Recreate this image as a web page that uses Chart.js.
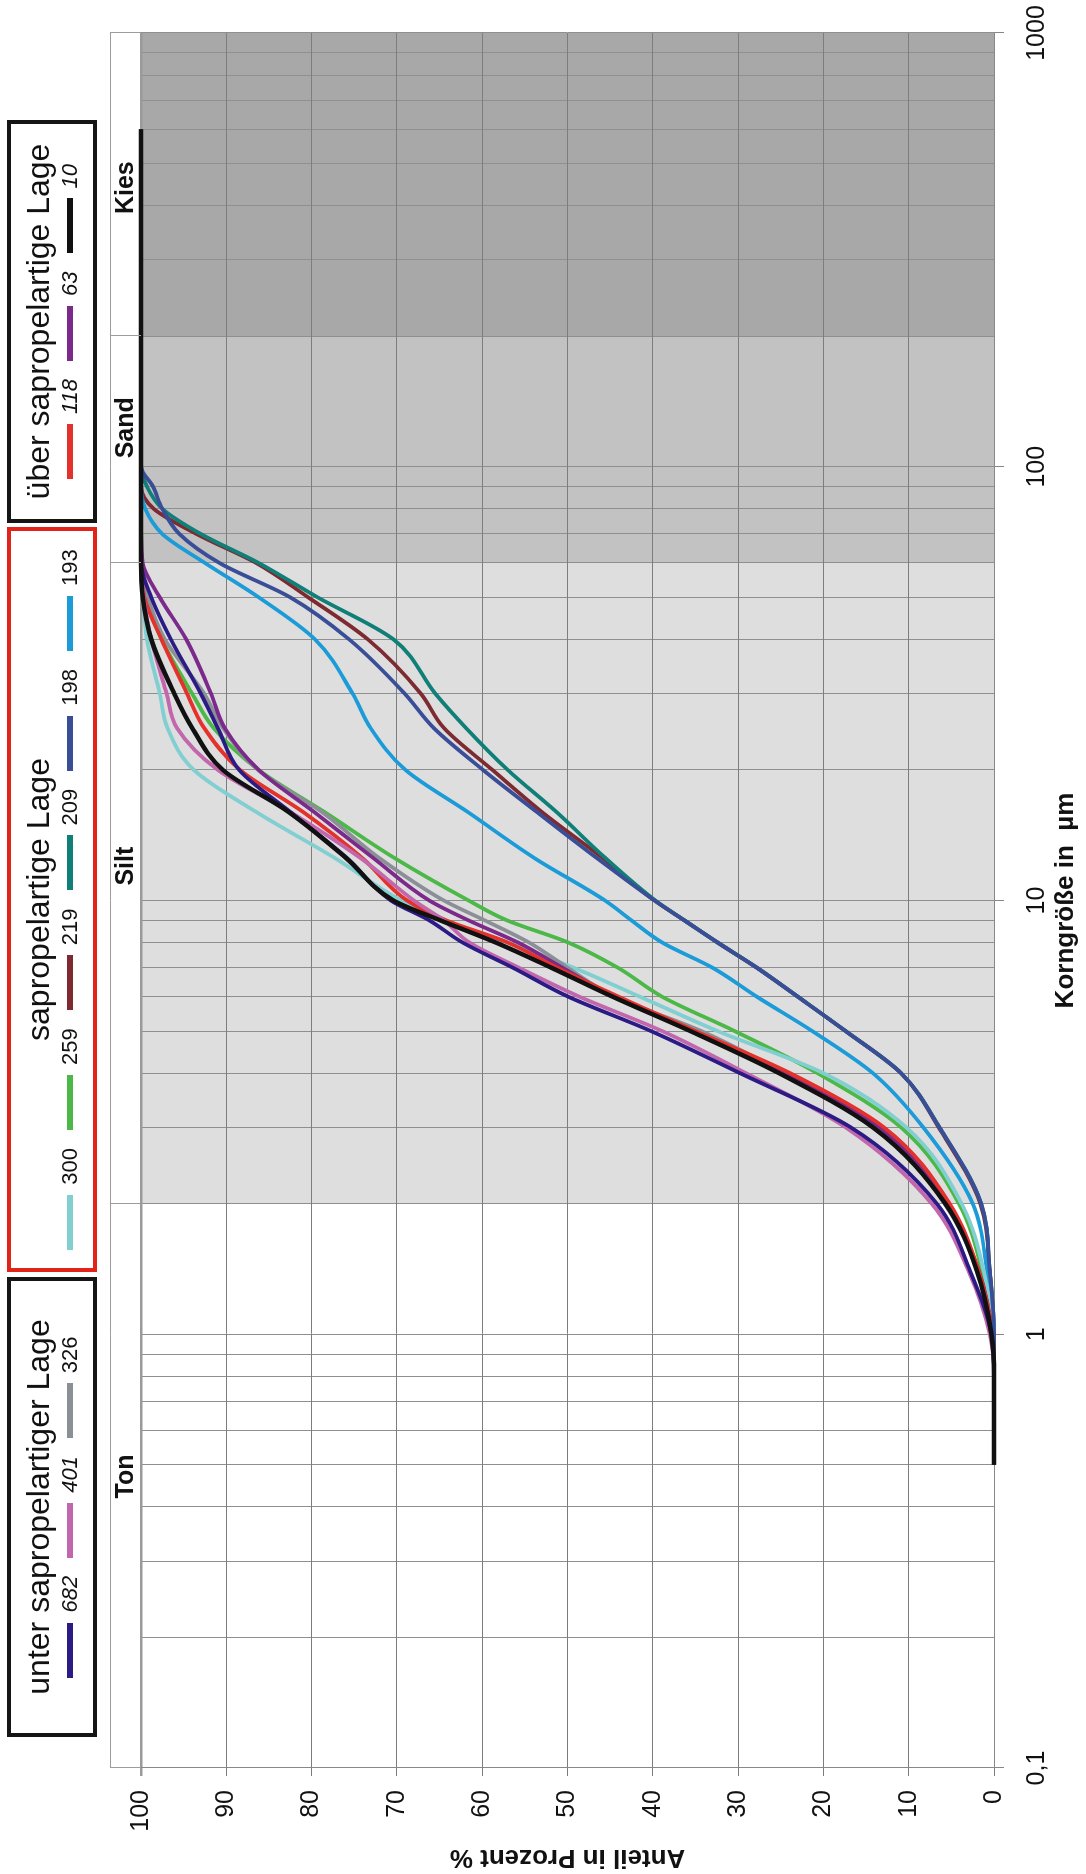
<!DOCTYPE html>
<html>
<head>
<meta charset="utf-8">
<script src="https://cdn.jsdelivr.net/npm/chart.js@4.4.1/dist/chart.umd.min.js"></script>
<style>
  html, body { margin: 0; padding: 0; background: #fff; overflow: hidden; }
  body { width: 1086px; height: 1874px; position: relative; }
  /* the chart is drawn lying down and turned a quarter to the left */
  #page { position: absolute; left: 0; top: 0; width: 1874px; height: 1086px;
          transform-origin: 0 0; transform: translate(0, 1874px) rotate(-90deg);
          font-family: "Liberation Sans", Arial, sans-serif; color: #111; }
  #chart { position: absolute; left: 0; top: 0; }
  .box { position: absolute; top: 7px; height: 90px; box-sizing: border-box;
         border: 4px solid #151515; background: #fff; }
  .box .ttl { position: absolute; left: 0; right: 0; top: 9px; text-align: center;
              font-size: 32px; line-height: 36px; white-space: nowrap; }
  .box .items { position: absolute; left: 0; right: 0; top: 47px; height: 24px;
                display: flex; justify-content: center; align-items: center; }
  .item { display: flex; align-items: center; margin: 0 9px; }
  .item .ln { width: 55px; height: 6px; margin-right: 10px; }
  .item .num { font-size: 22px; line-height: 24px; }
</style>
</head>
<body>
<div id="page">
  <canvas id="chart" width="1874" height="1086"></canvas>
</div>
<script>
// grain size in µm, shared by all samples
const sizes = [0.5, 0.8, 1, 1.4, 2, 3, 4, 5, 6, 7, 8, 9, 10, 12.5, 16, 20, 25, 30, 40, 50, 60, 70, 80, 90, 100, 600];

// cumulative share in % for each sample
const s682 = [0, 0, 0.3, 2.8, 6.7, 16.8, 29.8, 40.2, 49.9, 56.4, 62.3, 66.2, 70.7, 75.8, 82.5, 88.5, 91.0, 93.0, 96.5, 98.8, 100, 100, 100, 100, 100, 100];
const s401 = [0, 0, 0.5, 3.0, 7.3, 17.4, 29.1, 38.9, 48.6, 55.7, 61.5, 64.5, 68.0, 74.2, 82.5, 91.0, 95.8, 97.0, 98.8, 99.7, 100, 100, 100, 100, 100, 100];
const s326 = [0, 0, 0.2, 1.9, 5.8, 13.5, 24.6, 34.3, 44.5, 50.0, 54.5, 59.7, 64.5, 72.0, 78.8, 86.3, 90.4, 92.6, 97.2, 99.2, 99.9, 100, 100, 100, 100, 100];
const s300 = [0, 0, 0.1, 1.2, 3.8, 10.3, 20.0, 32.4, 41.5, 49.3, 57.0, 64.5, 69.5, 77.2, 86.5, 93.8, 96.9, 97.8, 99.3, 99.8, 100, 100, 100, 100, 100, 100];
const s259 = [0, 0, 0.1, 1.4, 4.1, 10.9, 20.7, 30.4, 38.9, 44.1, 49.9, 57.1, 61.6, 70.2, 78.5, 86.2, 91.5, 94.0, 97.6, 99.5, 100, 100, 100, 100, 100, 100];
const s219 = [0, 0, 0, 0.5, 1.6, 6.5, 10.9, 17.4, 23.0, 27.8, 32.4, 36.3, 39.8, 45.8, 53.0, 58.8, 64.5, 67.2, 73.4, 80.4, 86.5, 93.5, 98.5, 100, 100, 100];
const s209 = [0, 0, 0, 0.5, 1.5, 6.4, 10.9, 17.4, 23.0, 27.8, 32.4, 36.3, 39.7, 45.5, 51.3, 57.0, 61.9, 65.5, 70.4, 79.3, 86.2, 93.0, 97.5, 99.3, 100, 100];
const s198 = [0, 0, 0, 0.5, 1.5, 6.4, 10.9, 17.4, 23.0, 27.8, 32.4, 36.3, 39.8, 46.5, 53.6, 59.9, 65.7, 69.1, 75.6, 82.5, 90.8, 95.5, 97.5, 98.6, 100, 100];
const s193 = [0, 0, 0, 0.8, 2.5, 8.3, 14.2, 21.3, 27.8, 33.0, 38.9, 42.5, 45.6, 53.8, 61.7, 69.0, 73.1, 75.2, 79.6, 86.2, 92.5, 97.5, 99.5, 100, 100, 100];
const s118 = [0, 0, 0.2, 1.8, 5.2, 12.9, 23.9, 35.0, 44.0, 51.2, 57.0, 64.2, 68.8, 74.0, 81.0, 88.4, 92.6, 94.6, 97.6, 99.6, 100, 100, 100, 100, 100, 100];
const s63 = [0, 0, 0.2, 1.8, 5.5, 13.5, 24.6, 35.3, 44.5, 50.6, 55.8, 61.6, 66.2, 72.7, 79.7, 86.2, 90.2, 91.8, 94.7, 97.8, 99.8, 100, 100, 100, 100, 100];
const s10 = [0, 0, 0.3, 2.0, 5.7, 14.2, 25.2, 35.6, 44.7, 51.9, 58.4, 64.9, 70.4, 75.9, 82.7, 90.4, 94.0, 96.1, 98.8, 99.8, 100, 100, 100, 100, 100, 100];

const seriesNames = ['682', '401', '326', '300', '259', '219', '209', '198', '193', '118', '63', '10'];
const seriesValues = [s682, s401, s326, s300, s259, s219, s209, s198, s193, s118, s63, s10];

const groupTitles = ['unter sapropelartiger Lage', 'sapropelartige Lage', 'über sapropelartige Lage'];
const groupMembers = [['682', '401', '326'], ['300', '259', '219', '209', '198', '193'], ['118', '63', '10']];

// axis ticks and soil classes
const tickSizes = [0.1, 1, 10, 100, 1000];
const tickLabels = ['0,1', '1', '10', '100', '1000'];
const zoneNames = ['Ton', 'Silt', 'Sand', 'Kies'];
const zoneEdges = [0.1, 2, 60, 200, 1000];
const zoneLabelAt = [0.47, 12, 123, 440];

// styles
const seriesColors = ['#2b1b84', '#c266ad', '#8b9097', '#82cfd2', '#4cb847', '#7d2a31',
                      '#0f7f78', '#3a4e98', '#1b9bd8', '#e4312b', '#7b2a8b', '#111111'];
const drawOnTop = ['10', '198', '682', '401', '118', '63', '326', '300', '259', '193', '209', '219'];
const italicNames = ['682', '401', '118', '63', '10'];
const zoneFills = ['rgba(0,0,0,0)', '#dedede', '#c2c2c2', '#a8a8a8'];
const boxLeft = [137, 602, 1351];
const boxWidth = [460, 745, 403];
const boxBorder = ['#151515', '#e2231a', '#151515'];

// every 1..9 x 10^n step gets a grid line
const gridSizes = [];
for (let e = -1; e < 3; e++) {
  for (let m = 1; m < 10; m++) gridSizes.push(+(m * Math.pow(10, e)).toPrecision(3));
}
gridSizes.push(1000);

function labelIndex(v) {
  return tickSizes.findIndex(t => Math.abs(t - v) < t * 1e-6);
}

const zonePlugin = {
  id: 'zones',
  beforeDraw(chart) {
    const { ctx, scales: { x, y } } = chart;
    ctx.save();
    ctx.fillStyle = '#fff';
    ctx.fillRect(0, 0, chart.width, chart.height);
    for (let i = 0; i < zoneNames.length; i++) {
      const a = x.getPixelForValue(zoneEdges[i]);
      const b = x.getPixelForValue(zoneEdges[i + 1]);
      ctx.fillStyle = zoneFills[i];
      ctx.fillRect(a, y.getPixelForValue(100), b - a, y.getPixelForValue(0) - y.getPixelForValue(100));
    }
    ctx.restore();
  },
  afterDraw(chart) {
    const { ctx, scales: { x, y } } = chart;
    const bottom = y.getPixelForValue(100);
    const top = bottom - 31;
    ctx.save();
    ctx.strokeStyle = '#9c9c9c';
    ctx.lineWidth = 1;
    ctx.beginPath();
    ctx.moveTo(x.left, top + 0.5);
    ctx.lineTo(x.right, top + 0.5);
    for (const e of zoneEdges) {
      const px = Math.round(x.getPixelForValue(e)) + 0.5;
      ctx.moveTo(px, top);
      ctx.lineTo(px, bottom);
    }
    ctx.stroke();
    ctx.fillStyle = '#111';
    ctx.font = 'bold 25px "Liberation Sans", Arial, sans-serif';
    ctx.textAlign = 'center';
    ctx.textBaseline = 'middle';
    zoneNames.forEach((name, i) => {
      ctx.fillText(name, x.getPixelForValue(zoneLabelAt[i]), (top + bottom) / 2 + 1);
    });
    ctx.restore();
  }
};

Chart.defaults.font.family = '"Liberation Sans", Arial, sans-serif';
Chart.defaults.color = '#111';

const datasets = seriesNames.map((name, i) => ({
  label: name,
  data: sizes.map((s, j) => ({ x: s, y: seriesValues[i][j] })),
  borderColor: seriesColors[i],
  backgroundColor: seriesColors[i],
  borderWidth: name === '10' ? 4.5 : 3.8,
  pointRadius: 0,
  cubicInterpolationMode: 'monotone',
  clip: 10,
  order: drawOnTop.indexOf(name)
}));

new Chart('chart', {
  type: 'line',
  data: { datasets },
  options: {
    responsive: false,
    devicePixelRatio: 1,
    animation: false,
    layout: { padding: { top: 141, right: 33, left: 0, bottom: 0 } },
    plugins: { legend: { display: false }, tooltip: { enabled: false } },
    scales: {
      x: {
        type: 'logarithmic',
        min: 0.1,
        max: 1000,
        afterBuildTicks: (scale) => { scale.ticks = gridSizes.map(v => ({ value: v })); },
        afterFit: (scale) => {
          scale.height = 92;
          scale.paddingLeft = 0;
          scale.paddingRight = 0;
        },
        ticks: {
          autoSkip: false, maxRotation: 0, minRotation: 0, padding: 18,
          font: { size: 25 },
          callback: (v) => { const k = labelIndex(v); return k < 0 ? '' : tickLabels[k]; }
        },
        grid: {
          color: '#8f8f8f', lineWidth: 1, tickLength: 10,
          tickColor: (ctx) => labelIndex(ctx.tick.value) < 0 ? 'rgba(0,0,0,0)' : '#888'
        },
        border: { color: '#888' },
        title: { display: true, text: 'Korngröße in  µm', font: { size: 26, weight: 'bold' }, padding: { top: 0, bottom: 5 } }
      },
      y: {
        min: 0,
        max: 100,
        afterFit: (scale) => {
          scale.width = 106;
          scale.paddingTop = 0;
          scale.paddingBottom = 0;
        },
        ticks: { stepSize: 10, padding: 14, font: { size: 25 } },
        grid: {
          color: (ctx) => ctx.tick.value === 100 ? '#9a9a9a' : '#7d7d7d',
          lineWidth: (ctx) => ctx.tick.value === 100 ? 2.5 : 1,
          tickLength: 8
        },
        border: { color: '#888' },
        title: { display: true, text: 'Anteil in Prozent %', font: { size: 26, weight: 'bold' }, padding: { top: 1, bottom: 0 } }
      }
    }
  },
  plugins: [zonePlugin]
});

// legend boxes
const page = document.getElementById('page');
groupTitles.forEach((title, g) => {
  const box = document.createElement('div');
  box.className = 'box';
  box.style.left = boxLeft[g] + 'px';
  box.style.width = boxWidth[g] + 'px';
  box.style.borderColor = boxBorder[g];
  const ttl = document.createElement('div');
  ttl.className = 'ttl';
  ttl.textContent = title;
  const items = document.createElement('div');
  items.className = 'items';
  for (const name of groupMembers[g]) {
    const item = document.createElement('div');
    item.className = 'item';
    const ln = document.createElement('span');
    ln.className = 'ln';
    ln.style.background = seriesColors[seriesNames.indexOf(name)];
    const num = document.createElement('span');
    num.className = 'num';
    num.textContent = name;
    if (italicNames.includes(name)) num.style.fontStyle = 'italic';
    item.append(ln, num);
    items.append(item);
  }
  box.append(ttl, items);
  page.append(box);
});
</script>
</body>
</html>
